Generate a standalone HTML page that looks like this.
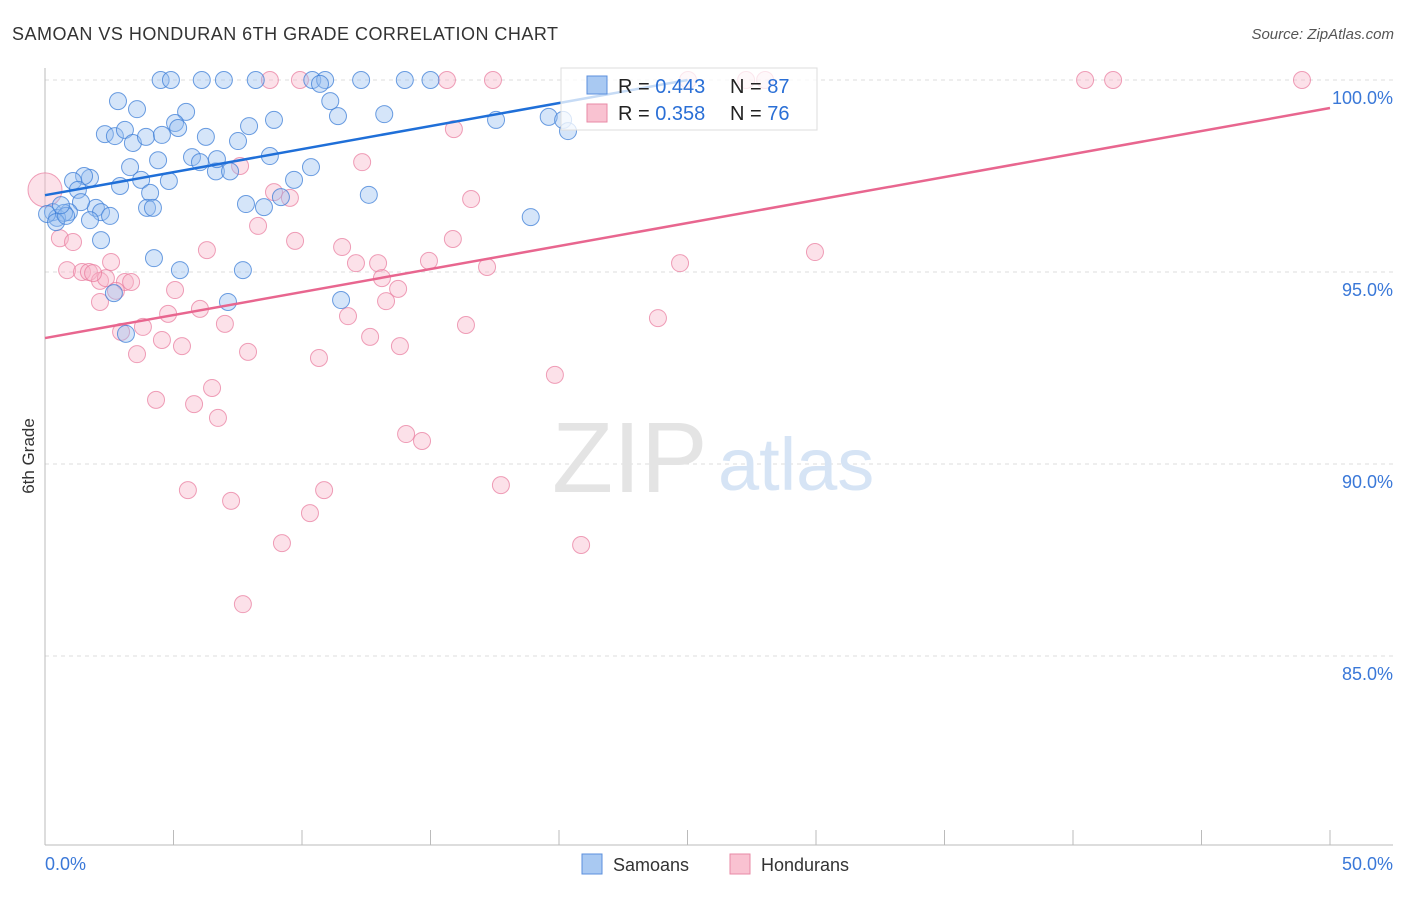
<!DOCTYPE html>
<html><head><meta charset="utf-8"><style>
body{margin:0;background:#fff;font-family:"Liberation Sans",sans-serif;}
svg text{font-family:"Liberation Sans",sans-serif;}
</style></head><body>
<svg id="chart" width="1406" height="892">
<text x="12" y="40" font-size="18" fill="#333" textLength="546">SAMOAN VS HONDURAN 6TH GRADE CORRELATION CHART</text>
<text x="1394" y="39" font-size="15" fill="#555" font-style="italic" text-anchor="end">Source: ZipAtlas.com</text>
<text x="34" y="456" font-size="17" fill="#333" text-anchor="middle" transform="rotate(-90 34 456)">6th Grade</text>
<g id="grid"></g>
<text x="552" y="492" font-size="100" fill="#e4e4e4" font-family="Liberation Serif">ZIP</text>
<text x="718" y="490" font-size="74" fill="#d6e4f5">atlas</text>
<g id="pts"></g>
<g id="lines"></g>
<g>
<rect x="561" y="68" width="256" height="62" fill="rgba(255,255,255,0.75)" stroke="#ddd"/>
<rect x="587" y="76" width="20" height="18" fill="#a9c9f2" stroke="#5b8fdd"/>
<rect x="587" y="104" width="20" height="18" fill="#f9c2d1" stroke="#e88aa6"/>
<text x="618" y="93" font-size="20" fill="#222">R = <tspan fill="#2a6fd6">0.443</tspan></text>
<text x="730" y="93" font-size="20" fill="#222">N = <tspan fill="#2a6fd6">87</tspan></text>
<text x="618" y="120" font-size="20" fill="#222">R = <tspan fill="#2a6fd6">0.358</tspan></text>
<text x="730" y="120" font-size="20" fill="#222">N = <tspan fill="#2a6fd6">76</tspan></text>
</g>
<g>
<rect x="582" y="854" width="20" height="20" fill="#a9c9f2" stroke="#5b8fdd"/>
<text x="613" y="871" font-size="18" fill="#333">Samoans</text>
<rect x="730" y="854" width="20" height="20" fill="#f9c2d1" stroke="#e88aa6"/>
<text x="761" y="871" font-size="18" fill="#333">Hondurans</text>
</g>
</svg>
<script>
const yTicks=[100,95,90,85];
const xTicks=[0,5,10,15,20,25,30,35,40,45,50];
const samoanX=[4.5,4.9,6.1,6.96,8.2,10.4,10.9,12.3,14.0,15.0,10.7,2.84,3.58,11.1,5.49,5.06,7.94,8.91,11.4,13.2,17.55,19.6,20.16,20.35,2.33,2.72,3.11,3.42,3.93,4.55,5.18,6.26,7.51,4.4,3.31,5.72,6.03,6.65,6.69,7.2,8.75,10.35,1.75,1.52,1.09,1.28,2.92,3.74,4.09,4.82,9.69,12.6,7.82,8.52,9.18,1.98,1.4,0.93,0.31,0.47,0.74,0.08,2.18,2.53,3.97,4.2,1.75,2.18,4.24,5.25,7.7,2.68,7.12,11.52,3.15,18.9,0.43,0.82,0.62];
const samoanY=[100,100,100,100,100,100,100,100,100,100,99.9,99.45,99.24,99.45,99.17,98.88,98.8,98.96,99.06,99.11,98.96,99.04,98.96,98.67,98.59,98.54,98.7,98.36,98.52,98.57,98.75,98.52,98.41,97.91,97.73,97.99,97.86,97.62,97.94,97.62,98.02,97.73,97.45,97.5,97.37,97.14,97.24,97.4,97.06,97.37,97.4,97.01,96.77,96.69,96.95,96.67,96.82,96.56,96.56,96.41,96.54,96.51,96.56,96.46,96.67,96.67,96.35,95.83,95.36,95.05,95.05,94.45,94.22,94.27,93.39,96.43,96.3,96.46,96.74];
const hondX=[0,8.75,9.92,15.64,17.43,25.02,40.47,41.56,48.91,27.28,28.02,15.91,12.34,7.59,8.91,9.53,16.58,8.29,0.58,1.09,6.3,9.73,11.56,15.87,12.1,12.96,14.94,17.2,24.71,29.96,0.86,1.44,1.71,2.14,2.37,3.11,3.35,5.06,13.74,13.11,13.27,2.14,2.76,6.03,7.0,3.81,2.96,23.85,11.79,16.38,4.79,4.55,5.33,3.58,7.9,10.66,12.65,13.81,19.84,6.5,4.32,5.8,6.73,14.05,14.67,5.56,7.24,10.86,17.74,10.31,9.22,20.86,7.7,1.87,2.57];
const hondY=[97.14,100,100,100,100,100,100,100,100,100,100,98.72,97.86,97.76,97.08,96.93,96.9,96.2,95.88,95.78,95.57,95.81,95.65,95.86,95.23,95.23,95.29,95.13,95.23,95.52,95.05,95,95,94.77,94.84,94.74,94.74,94.53,94.56,94.84,94.24,94.22,94.51,94.04,93.65,93.57,93.44,93.8,93.85,93.62,93.91,93.23,93.07,92.86,92.92,92.76,93.31,93.07,92.32,91.98,91.67,91.56,91.2,90.78,90.6,89.32,89.04,89.32,89.45,88.72,87.94,87.89,86.35,94.97,95.26];
const samoanTrend=[[0,97.0],[25,100.0]];
const hondTrend=[[0,93.28],[50,99.27]];
const NS="http://www.w3.org/2000/svg";
const X0=45,X1=1330,Y100=80,PXPCT=38.4;
function sx(v){return X0+(v/50)*(X1-X0);}
function sy(v){return Y100+(100-v)*PXPCT;}
function mk(tag,attrs,parent){const e=document.createElementNS(NS,tag);for(const k in attrs)e.setAttribute(k,attrs[k]);parent.appendChild(e);return e;}
const grid=document.getElementById('grid');
yTicks.forEach(t=>{
  const l=mk('line',{x1:45,x2:1393,y1:sy(t),y2:sy(t),stroke:'#ddd','stroke-dasharray':'4 4'},grid);
  
  
  const tx=mk('text',{x:1393,y:sy(t)+24,'font-size':18,fill:'#3a78d8','text-anchor':'end'},grid);
  tx.textContent=t.toFixed(1)+'%';
  
  
});
const ax=mk('line',{x1:45,x2:45,y1:68,y2:845,stroke:'#bbb'},grid);


const bx=mk('line',{x1:45,x2:1393,y1:845,y2:845,stroke:'#bbb'},grid);


xTicks.forEach(t=>{
  const l=mk('line',{x1:sx(t),x2:sx(t),y1:830,y2:845,stroke:'#bbb'},grid);
  
  
});
const xl0=mk('text',{x:45,y:870,'font-size':18,fill:'#3a78d8'},grid);xl0.textContent=xTicks[0].toFixed(1)+'%';


const xl1=mk('text',{x:1393,y:870,'font-size':18,fill:'#3a78d8','text-anchor':'end'},grid);xl1.textContent=xTicks[xTicks.length-1].toFixed(1)+'%';


const pts=document.getElementById('pts');
hondX.forEach((v,i)=>{
  const c=mk('circle',{cx:sx(v),cy:sy(hondY[i]),r:i===0?17:8.5,fill:'rgba(248,180,200,0.4)',stroke:'rgba(232,120,155,0.7)','stroke-width':1},pts);
  
  
});
samoanX.forEach((v,i)=>{
  const c=mk('circle',{cx:sx(v),cy:sy(samoanY[i]),r:8.5,fill:'rgba(150,190,240,0.4)',stroke:'rgba(60,125,215,0.75)','stroke-width':1},pts);
  
  
});
const lines=document.getElementById('lines');
const l1=mk('line',{x1:sx(samoanTrend[0][0]),y1:sy(samoanTrend[0][1]),x2:sx(samoanTrend[1][0]),y2:sy(samoanTrend[1][1]),stroke:'#1f6fd8','stroke-width':2.5},lines);


const l2=mk('line',{x1:sx(hondTrend[0][0]),y1:sy(hondTrend[0][1]),x2:sx(hondTrend[1][0]),y2:sy(hondTrend[1][1]),stroke:'#e8668f','stroke-width':2.5},lines);


</script>
</body></html>
